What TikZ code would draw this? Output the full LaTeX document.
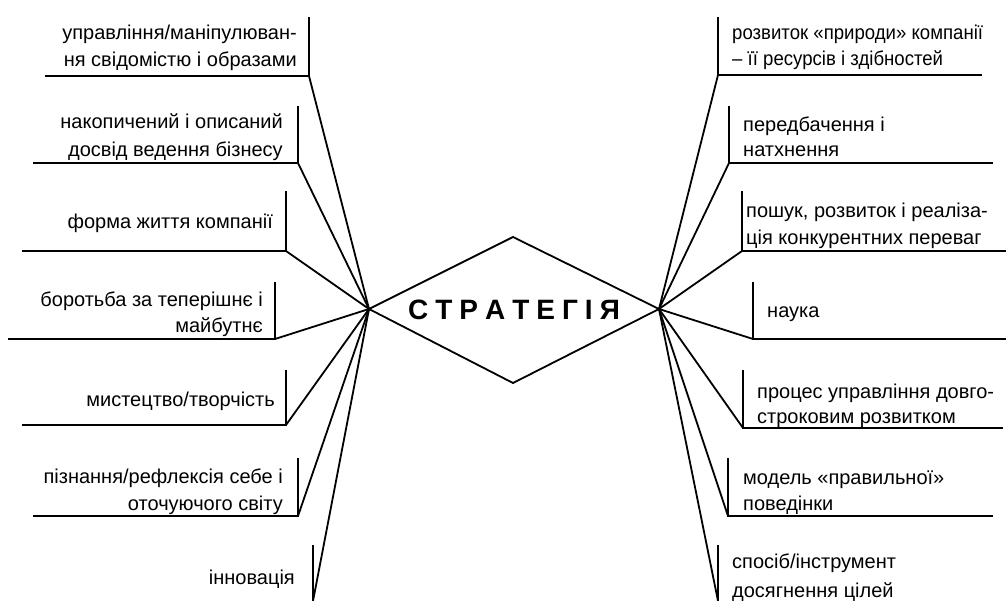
\documentclass[tikz,border=0pt]{standalone}
\usepackage{fontspec}
\setmainfont{Liberation Sans}
\newcommand\leftlab[1]{\begin{tabular}[b]{@{}r@{}}#1\end{tabular}}
\newcommand\rightlab[1]{\begin{tabular}[b]{@{}l@{}}#1\end{tabular}}
\begin{document}
\begin{tikzpicture}[x=1pt,y=-1pt,
  lab/.style={inner sep=0pt, font=\fontsize{20}{27}\selectfont},
  labl/.style={lab, anchor=base east},
  labr/.style={lab, anchor=base west},
  bar/.style={line width=2pt},
  conn/.style={line width=1.8pt, line join=miter}]
\useasboundingbox (0,0) rectangle (1006,601);
% diamond
\coordinate (dl) at (369,309);
\coordinate (dt) at (513,237);
\coordinate (dr) at (659,309);
\coordinate (db) at (513,383);
\draw[conn] (dl) -- (dt) -- (dr) -- (db) -- cycle;
\node[inner sep=0pt, font=\fontsize{28}{30}\selectfont\bfseries] (str) at (514,310)
  {С\kern7pt Т\kern7pt Р\kern7pt А\kern7pt Т\kern7pt Е\kern7pt Г\kern7pt І\kern7pt Я};
% left items: corner, top, left end
\foreach \n/\vx/\ty/\uy/\lx in {1/309/17/76/45, 2/298/106/163/33, 3/286/191/251/22,
    4/275/282/339/8, 5/286/370/425/22, 6/298/458/516/33} {
  \coordinate (L\n) at (\vx,\uy);
  \coordinate (L\n t) at (\vx,\ty);
  \coordinate (L\n l) at (\lx,\uy);
  \draw[bar] (L\n l) -- (L\n) -- (L\n t);
  \draw[conn] (dl) -- (L\n);
}
\coordinate (L7) at (313,601);
\coordinate (L7t) at (313,545);
\draw[bar] (L7) -- (L7t);
\draw[conn] (dl) -- (L7);
% right items
\foreach \n/\vx/\ty/\uy/\rx in {1/718/17/75/982, 2/729/106/163/993, 3/742/191/251/1006,
    4/753/282/339/1006, 5/743/370/428/1003, 6/728/458/516/993} {
  \coordinate (R\n) at (\vx,\uy);
  \coordinate (R\n t) at (\vx,\ty);
  \coordinate (R\n r) at (\rx,\uy);
  \draw[bar] (R\n r) -- (R\n) -- (R\n t);
  \draw[conn] (dr) -- (R\n);
}
\coordinate (R7) at (718,601);
\coordinate (R7t) at (718,545);
\draw[bar] (R7) -- (R7t);
\draw[conn] (dr) -- (R7);
% left labels
\node[labl] (t1) at (297,67) {\leftlab{управління/маніпулюван-\\ня свідомістю і образами}};
\node[labl] (t2) at (283,157) {\leftlab{накопичений і описаний\\[1pt]досвід ведення бізнесу}};
\node[labl] (t3) at (273,229) {форма життя компанії};
\node[labl] (t4) at (263,333) {\leftlab{боротьба за теперішнє і\\[-1pt]майбутнє}};
\node[labl] (t5) at (275,406) {мистецтво/творчість};
\node[labl] (t6) at (283,510) {\leftlab{пізнання/рефлексія себе і\\оточуючого світу}};
\node[labl] (t7) at (295,584) {інновація};
% right labels
\node[labr] (u1) at (732,66) {\addfontfeatures{FakeStretch=0.93}\rightlab{розвиток «природи» компанії\\[-1pt]– її ресурсів і здібностей}};
\node[labr] (u2) at (743,157) {\rightlab{передбачення і\\[-2pt]натхнення}};
\node[labr] (u3) at (746,245) {\rightlab{пошук, розвиток і реаліза-\\ція конкурентних переваг}};
\node[labr] (u4) at (767,318) {наука};
\node[labr] (u5) at (757,423) {\rightlab{процес управління довго-\\[-2pt]строковим розвитком}};
\node[labr] (u6) at (743,510) {\rightlab{модель «правильної»\\[-1pt]поведінки}};
\node[labr] (u7) at (732,597) {\rightlab{спосіб/інструмент\\[2pt]досягнення цілей}};
\end{tikzpicture}
\end{document}
